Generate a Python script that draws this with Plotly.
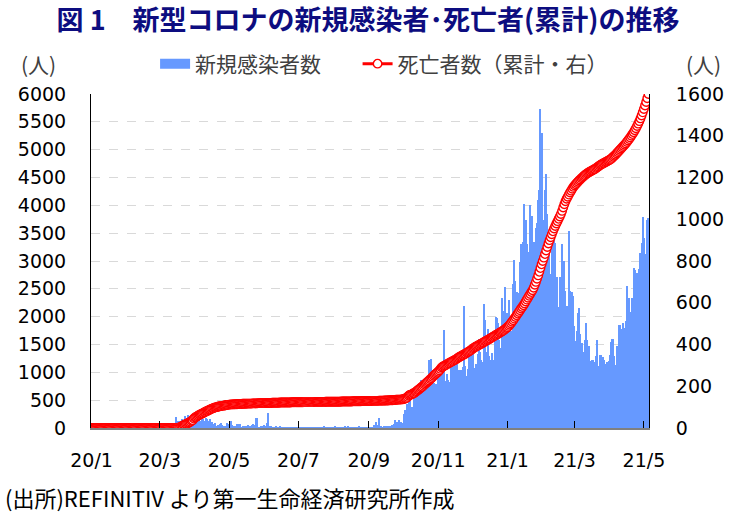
import pandas as pd
import plotly.graph_objects as go

# ---------------- data (daily, Malaysia) ----------------
month_starts = ["2020-01-01", "2020-02-01", "2020-03-01", "2020-04-01", "2020-05-01",
                "2020-06-01", "2020-07-01", "2020-08-01", "2020-09-01", "2020-10-01",
                "2020-11-01", "2020-12-01", "2021-01-01", "2021-02-01", "2021-03-01",
                "2021-04-01", "2021-05-01"]

cases_2020_01 = [0,0,0,0,0,0,0,0,0,0,0,0,0,0,0,0,0,0,0,0,0,0,0,0,3,1,0,0,3,0,0]
cases_2020_02 = [0,0,1,2,0,2,1,2,3,1,0,0,0,0,3,0,0,0,0,0,0,0,0,0,0,0,1,2,0]
cases_2020_03 = [0,0,7,14,5,28,10,6,18,12,20,9,39,41,190,125,120,117,110,130,
                 153,123,212,106,172,235,130,159,150,140,142]
cases_2020_04 = [142,208,217,150,179,131,170,156,109,118,184,153,134,170,85,110,69,54,84,36,
                 57,50,71,88,51,38,40,31,94,57]
cases_2020_05 = [69,105,122,55,30,45,39,68,54,67,70,16,37,40,36,17,22,47,37,31,
                 50,78,48,60,172,187,15,10,30,20,38]
cases_2020_06 = [57,20,93,277,19,37,19,7,2,8,31,13,18,10,41,2,6,8,10,8,
                 14,3,4,6,6,2,4,4,2,8]
cases_2020_07 = [1,3,3,2,1,5,4,5,2,9,6,2,10,6,4,4,6,11,15,9,
                 3,4,11,23,8,18,2,9,5,5,12]
cases_2020_08 = [8,19,14,9,5,12,5,13,14,3,22,9,5,25,9,2,5,9,6,18,
                 10,11,25,5,11,2,6,10,6,13,2]
cases_2020_09 = [6,7,6,8,13,62,100,62,19,182,25,26,13,24,25,23,22,21,26,19,
                 57,23,65,147,111,111,115,150,101,89]
cases_2020_10 = [89,260,317,293,432,691,489,374,354,374,561,563,660,660,589,629,869,871,865,862,
                 732,847,710,1228,823,1240,835,801,649,799,659]
cases_2020_11 = [957,1054,1033,1032,1009,1755,852,852,972,869,822,1162,1208,659,1290,1210,1124,1304,1041,1012,
                 1041,1041,1096,2188,1109,935,1052,1315,1123,1472]
cases_2020_12 = [851,1472,1075,1141,1123,1335,1600,1371,1228,1190,2234,1937,1229,1371,1772,1295,1220,1340,1219,1229,
                 1630,1990,1980,1885,1581,1441,2335,1295,2107,2525,2068]
cases_2021_01 = [2068,2295,1704,1741,1704,2593,3027,2643,2451,2433,2232,2985,3309,2985,3337,4029,3729,3306,3170,3170,
                 4008,3631,3800,3346,3048,3585,3680,4094,4275,5728,5298]
cases_2021_02 = [3731,3455,4284,4571,3847,3499,3100,2764,3288,3384,3499,3318,2464,2720,2176,2712,2720,3297,2936,3003,
                 2461,2192,1924,3545,2468,2253,2437,2364]
cases_2021_03 = [1828,1555,1745,2063,2154,1680,1529,1529,1365,1575,1894,1575,1340,1470,1208,1213,1219,1025,1190,1290,
                 1578,1116,1311,1317,1148,1275,1228,1149,1000,1179,1212]
cases_2021_04 = [1309,1549,1594,1600,1291,1139,1482,1308,1854,1847,1767,1780,1889,1788,1924,2551,2331,2340,1889,2078,
                 2341,2875,2847,2776,2717,2776,2848,3142,3332,3788]
cases_2021_05 = [3418,3120,2790,3744,3780]

deaths_2020_01 = [0,0,0,0,0,0,0,0,0,0,0,0,0,0,0,0,0,0,0,0,0,0,0,0,0,0,0,0,0,0,0]
deaths_2020_02 = [0,0,0,0,0,0,0,0,0,0,0,0,0,0,0,0,0,0,0,0,0,0,0,0,0,0,0,0,0]
deaths_2020_03 = [0,0,0,0,0,0,0,0,0,0,0,0,0,0,0,0,2,2,3,8,10,14,16,19,21,24,26,30,35,37,45]
deaths_2020_04 = [50,53,56,60,63,66,68,71,74,77,80,82,85,88,90,93,95,97,99,100,
                  102,103,104,105,106,107,108,109,110,111]
deaths_2020_05 = [112,112,113,113,113,114,114,114,115,115,115,115,116,116,116,116,117,117,117,117,
                  117,118,118,118,118,118,119,119,119,119,119]
deaths_2020_06 = [119,119,120,120,120,120,120,121,121,121,121,121,121,121,122,122,122,122,122,122,
                  122,122,122,122,123,123,123,123,123,123]
deaths_2020_07 = [123,123,123,123,123,124,124,124,124,124,124,124,124,124,124,125,125,125,125,125,
                  125,125,125,125,126,126,126,126,126,126,126]
deaths_2020_08 = [126,126,126,126,126,126,126,127,127,127,127,127,127,127,127,127,127,128,128,128,
                  128,128,128,128,128,129,129,129,129,129,129]
deaths_2020_09 = [129,129,129,130,130,130,130,130,130,131,131,131,131,131,132,132,132,132,133,133,
                  133,133,134,134,135,135,136,136,136,137]
deaths_2020_10 = [138,139,141,144,149,155,158,160,162,165,168,172,176,181,185,189,194,198,203,208,
                  213,218,223,228,233,238,244,250,255,260,265]
deaths_2020_11 = [270,276,283,290,294,297,300,303,306,309,312,315,318,321,324,327,330,334,338,341,
                  344,347,350,353,356,360,363,366,370,374]
deaths_2020_12 = [378,382,386,389,392,395,398,401,404,407,410,414,417,420,423,426,429,433,436,439,
                  443,446,449,452,456,459,462,466,470,474,479]
deaths_2021_01 = [483,489,495,502,509,516,524,532,540,548,556,564,572,580,588,597,606,615,624,633,
                  642,651,660,672,686,700,715,731,748,766,784]
deaths_2021_02 = [800,816,833,850,867,884,900,914,928,942,956,968,980,991,1002,1013,1025,1040,1056,1072,
                  1086,1098,1108,1118,1128,1137,1146,1155]
deaths_2021_03 = [1162,1168,1174,1180,1186,1191,1196,1201,1206,1211,1215,1219,1223,1226,1229,1232,1235,1238,1241,1245,
                  1249,1253,1257,1261,1264,1267,1270,1273,1276,1279,1282]
deaths_2021_04 = [1285,1289,1294,1299,1304,1309,1315,1321,1327,1333,1339,1345,1351,1357,1363,1370,1377,1384,1392,1400,
                  1408,1417,1426,1436,1447,1458,1470,1483,1497,1512]
deaths_2021_05 = [1528,1545,1562,1580,1600]

tick_dates = ["2020-01-01", "2020-03-01", "2020-05-01", "2020-07-01", "2020-09-01",
              "2020-11-01", "2021-01-01", "2021-03-01", "2021-05-01"]
tick_labels = ["20/1", "20/3", "20/5", "20/7", "20/9", "20/11", "21/1", "21/3", "21/5"]

cases_months = [cases_2020_01, cases_2020_02, cases_2020_03, cases_2020_04, cases_2020_05,
                cases_2020_06, cases_2020_07, cases_2020_08, cases_2020_09, cases_2020_10,
                cases_2020_11, cases_2020_12, cases_2021_01, cases_2021_02, cases_2021_03,
                cases_2021_04, cases_2021_05]
deaths_months = [deaths_2020_01, deaths_2020_02, deaths_2020_03, deaths_2020_04, deaths_2020_05,
                 deaths_2020_06, deaths_2020_07, deaths_2020_08, deaths_2020_09, deaths_2020_10,
                 deaths_2020_11, deaths_2020_12, deaths_2021_01, deaths_2021_02, deaths_2021_03,
                 deaths_2021_04, deaths_2021_05]

dates_c, cases = [], []
for ms, vals in zip(month_starts, cases_months):
    dates_c += list(pd.date_range(ms, periods=len(vals), freq="D"))
    cases += vals
dates_d, deaths = [], []
for ms, vals in zip(month_starts, deaths_months):
    dates_d += list(pd.date_range(ms, periods=len(vals), freq="D"))
    deaths += vals

# ---------------- layout geometry ----------------
W, H = 736, 515
L, R, T, B = 91, 657, 94, 428
pw, ph = R - L, B - T

def px_x(px):
    return (px - L) / pw

def px_y(py):
    return (B - py) / ph

FONT = "DejaVu Sans, Noto Sans CJK JP, sans-serif"
CJK = "Noto Sans CJK JP, sans-serif"
BLUE = "#6699FF"

fig = go.Figure()
fig.add_trace(go.Bar(
    x=dates_c, y=cases, name="新規感染者数",
    marker=dict(color=BLUE, line=dict(width=0)),
    yaxis="y", showlegend=False,
))
# legend key for the bars (wide rectangle like the original); trailing
# spaces give the gap before the next legend entry
fig.add_trace(go.Scatter(
    x=[None], y=[None], name="新規感染者数　\u2002", mode="lines",
    line=dict(color=BLUE, width=13), yaxis="y", showlegend=True,
))
fig.add_trace(go.Scatter(
    x=dates_d, y=deaths, name="死亡者数（累計・右）", mode="lines+markers",
    line=dict(color="#FF0000", width=3),
    marker=dict(symbol="circle", size=8.5, color="white", line=dict(color="#FF0000", width=1.4)),
    yaxis="y2",
))

fig.update_layout(
    width=W, height=H,
    margin=dict(l=L, r=W - R, t=T, b=H - B, pad=0),
    paper_bgcolor="white", plot_bgcolor="white",
    bargap=0,
    font=dict(family=FONT, size=19, color="black"),
    title=dict(text="<b>図 1　新型コロナの新規感染者･死亡者(累計)の推移</b>",
               font=dict(family=CJK, size=27, color="#0D0D80"),
               x=0.5, xref="container", xanchor="center",
               y=1 - 21 / H, yref="container", yanchor="middle"),
    showlegend=True,
    legend=dict(orientation="h", x=px_x(156), xanchor="left",
                y=px_y(64), yanchor="middle",
                font=dict(family=CJK, size=21, color="#404040"),
                bgcolor="rgba(0,0,0,0)",
                traceorder="normal", itemwidth=30),
    xaxis=dict(type="date",
               range=["2019-12-31 12:00", "2021-05-05 12:00"],
               tickvals=tick_dates, ticktext=tick_labels,
               ticks="inside", ticklen=7, tickcolor="black", tickwidth=1,
               showline=True, linecolor="#808080", linewidth=1.5,
               showgrid=False, zeroline=False,
               ticklabelstandoff=14,
               tickfont=dict(family=FONT, size=19, color="black")),
    yaxis=dict(range=[0, 6000], dtick=500, tick0=0,
               showgrid=True, gridcolor="#D9D9D9", griddash="dash", gridwidth=1,
               showline=True, linecolor="black", linewidth=1,
               ticks="", zeroline=False, ticklabelstandoff=20,
               tickfont=dict(family=FONT, size=19, color="black")),
    yaxis2=dict(range=[0, 1600], dtick=200, tick0=0, overlaying="y", side="right",
                showgrid=False, showline=True, linecolor="black", linewidth=1,
                ticks="", zeroline=False, ticklabelstandoff=22,
                tickfont=dict(family=FONT, size=19, color="black")),
    annotations=[
        dict(text="(人)", xref="paper", yref="paper", x=px_x(38), y=px_y(64),
             xanchor="center", yanchor="middle", showarrow=False,
             font=dict(family=CJK, size=21, color="#404040")),
        dict(text="(人)", xref="paper", yref="paper", x=px_x(712), y=px_y(64),
             xanchor="center", yanchor="middle", showarrow=False,
             font=dict(family=CJK, size=21, color="#404040")),
        dict(text="(出所)REFINITIV より第一生命経済研究所作成", xref="paper", yref="paper",
             x=px_x(2), y=px_y(497), xanchor="left", yanchor="middle", showarrow=False,
             font=dict(family=CJK, size=22, color="black")),
    ],
)

fig.write_html("out.html")
